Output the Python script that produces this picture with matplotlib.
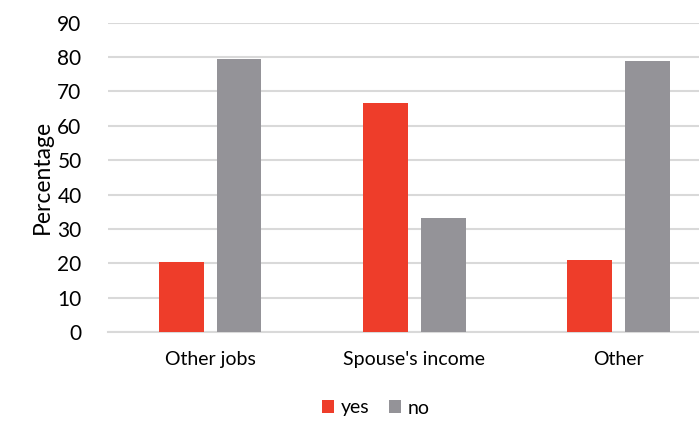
import matplotlib.pyplot as plt
import numpy as np

# доли ответов по категориям дохода
categories = ["Other jobs", "Spouse's income", "Other"]
yes_vals = [20.5, 66.7, 20.9]
no_vals = [79.4, 33.3, 78.9]
y_ticks = [0, 10, 20, 30, 40, 50, 60, 70, 80, 90]

plt.rcParams['font.family'] = ['Lato', 'DejaVu Sans']

fig = plt.figure(figsize=(6.99, 4.21), dpi=100)
ax = fig.add_axes([0.1545, 0.2114, 0.876, 0.7347])

x = np.arange(len(categories))
w = 0.22
ax.bar(x - 0.142, yes_vals, w, color='#EE3D2A', label='yes', zorder=3)
ax.bar(x + 0.142, no_vals, w, color='#949398', label='no', zorder=3)

ax.set_xlim(-0.5, 2.5)
ax.set_ylim(0, 90)
ax.set_yticks(y_ticks)
ax.set_xticks(x)
ax.set_xticklabels(categories, fontsize=14)
ax.tick_params(axis='y', labelsize=15, length=0, pad=19)
ax.tick_params(axis='x', length=0, pad=14)
ax.grid(axis='y', color='#D9D9D9', linewidth=1.5, zorder=0)
for s in ['top', 'right', 'left']:
    ax.spines[s].set_visible(False)
ax.spines['bottom'].set_color('#D9D9D9')
ax.spines['bottom'].set_linewidth(1.5)
ax.set_ylabel('Percentage', fontsize=16.5, labelpad=3)

fig.legend(loc='center', bbox_to_anchor=(376 / 699, 1 - 408 / 421), ncol=2,
           frameon=False, fontsize=14, handlelength=0.6, handleheight=0.6,
           handletextpad=0.35, columnspacing=1.0)

fig.savefig('out.png', dpi=100)
